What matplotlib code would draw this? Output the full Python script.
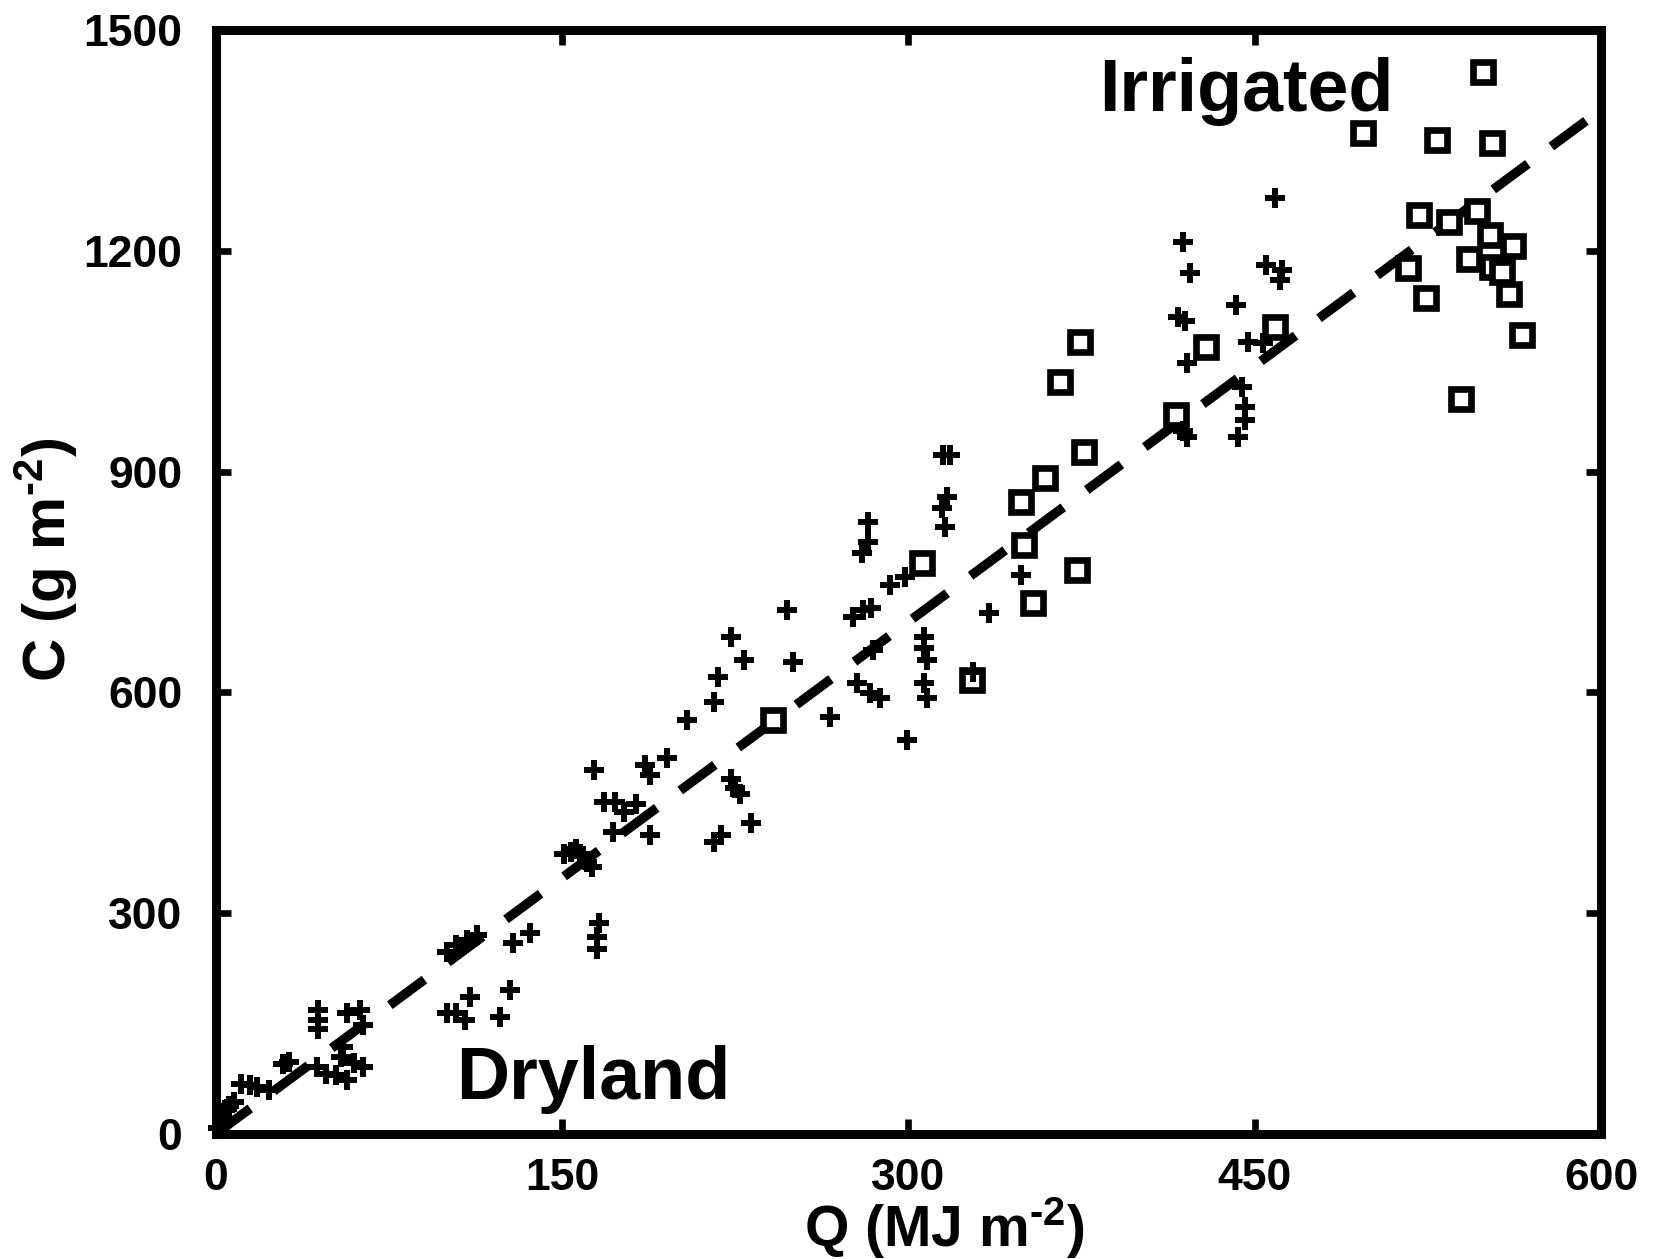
import matplotlib
matplotlib.use("Agg")
import matplotlib.pyplot as plt

plt.rcParams['font.family'] = ['Liberation Sans', 'DejaVu Sans']
plt.rcParams['font.weight'] = 'bold'
plt.rcParams['mathtext.fontset'] = 'custom'
plt.rcParams['mathtext.rm'] = 'Liberation Sans:bold'
plt.rcParams['mathtext.bf'] = 'Liberation Sans:bold'
plt.rcParams['mathtext.it'] = 'Liberation Sans:bold'

# ---------------- data ----------------
dry_q = [1, 3, 4, 6, 8, 11, 15, 18, 23, 29, 32,
         44.5, 44.5, 44.5, 44, 48, 52, 57, 55, 54.5, 57, 62.5, 64, 60, 64,
         100, 104, 109, 113, 100, 104, 108, 110, 123, 127.5, 129, 136,
         151, 154, 156, 158, 161, 163, 165, 165, 166, 164, 168, 173, 172,
         177, 182, 186, 188, 188, 195.5, 204, 216, 217.6, 223, 229, 247.5, 250,
         223, 225, 227, 216, 219, 232, 266, 299.5,
         277.8, 283.5, 287.7, 276, 280.5, 284, 284.6, 292, 298.6,
         280, 282.5, 282.5, 316.7, 314.5, 316, 315, 318,
         307, 307, 308, 307, 308, 335, 349, 328,
         419, 422, 417, 420, 420.7, 419, 420.7, 442, 447, 453.5,
         444.5, 446, 446, 443, 459, 455, 462, 461]
dry_c = [8, 20, 32, 38, 44, 68, 66, 64, 60, 95, 98,
         168, 155, 143, 91, 82, 80, 73, 118, 105, 164, 168, 148, 96, 91,
         247, 257, 263, 270, 164, 164, 155, 186, 159, 196, 259, 273,
         380, 383, 387, 380, 370, 363, 268, 252, 287, 495, 451, 451, 410,
         437, 449, 501, 488, 406, 511, 562, 587, 621, 675, 644, 712, 641,
         483, 470, 462, 397, 406, 422, 567, 535,
         613, 599, 592, 702, 712, 715, 657, 746, 757,
         789, 804, 832, 866, 851, 825, 922, 922,
         675, 660, 644, 613, 592, 708, 759, 628,
         1212, 1170, 1110, 1104, 1047, 955, 947, 1126, 1076, 1075,
         1015, 988, 970, 947, 1272, 1181, 1174, 1160]

irr_q = [241.5, 306, 327.6, 350, 354, 349, 359, 373, 376, 365.7, 374.4,
         416, 429, 459, 549, 497, 529, 553, 521, 534, 546.5, 552, 562,
         543, 552.8, 557, 560, 516.5, 524, 565.8, 539.4]
irr_c = [562, 776, 617, 800, 721, 859, 891, 766, 927, 1022, 1076,
         977, 1069, 1096, 1443, 1360, 1351, 1346, 1249, 1239, 1254, 1221, 1206,
         1189, 1178, 1171, 1141, 1177, 1136, 1086, 999]

fit_q = [0, 595]
fit_c = [0, 1380]

x_ticks = [0, 150, 300, 450, 600]
y_ticks = [0, 300, 600, 900, 1200, 1500]

# ---------------- figure ----------------
W, H = 1657, 1259
fig = plt.figure(figsize=(W / 100, H / 100), dpi=100)
ax = fig.add_axes([215.6 / W, (H - 1134) / H, 1385.4 / W, 1104 / H])

lw_line = 6.8
ax.plot(fit_q, fit_c, color='black', lw=lw_line,
        dashes=(31 / lw_line, 21 / lw_line), solid_capstyle='butt',
        zorder=2, clip_on=False)
ax.plot(irr_q, irr_c, linestyle='none', marker='s', ms=14.4,
        mfc='white', mec='black', mew=4.8, zorder=3, clip_on=False)
ax.plot(dry_q, dry_c, linestyle='none', marker='P', ms=14,
        color='black', mew=0, zorder=4, clip_on=False)

ax.set_xlim(0, 600)
ax.set_ylim(0, 1500)

for s in ax.spines.values():
    s.set_linewidth(6.5)
    s.set_zorder(5)

ax.set_xticks(x_ticks)
ax.set_yticks(y_ticks)
ax.set_xticklabels([str(v) for v in x_ticks])
ax.set_yticklabels([str(v) for v in y_ticks])
ax.tick_params(axis='both', direction='in', length=11, width=4.8,
               top=True, right=True, labelsize=32)
ax.tick_params(axis='x', pad=17)
ax.tick_params(axis='y', pad=24)
for lab in ax.get_xticklabels() + ax.get_yticklabels():
    lab.set_fontweight('bold')

ax.set_xlabel(r'Q (MJ m$^{\text{-2}}$)', fontsize=41, fontweight='bold',
              va='center')
ax.xaxis.set_label_coords(0.526, -0.085)
ax.set_ylabel(r'C (g m$^{\text{-2}}$)', fontsize=43, fontweight='bold',
              va='center')
ax.yaxis.set_label_coords(-0.122, 0.52)

ax.text(104, 47.5, 'Dryland', fontsize=53, fontweight='bold',
        ha='left', va='baseline', zorder=6)
ax.text(382.6, 1390, 'Irrigated', fontsize=53, fontweight='bold',
        ha='left', va='baseline', zorder=6)

fig.savefig('out.png', dpi=100)
